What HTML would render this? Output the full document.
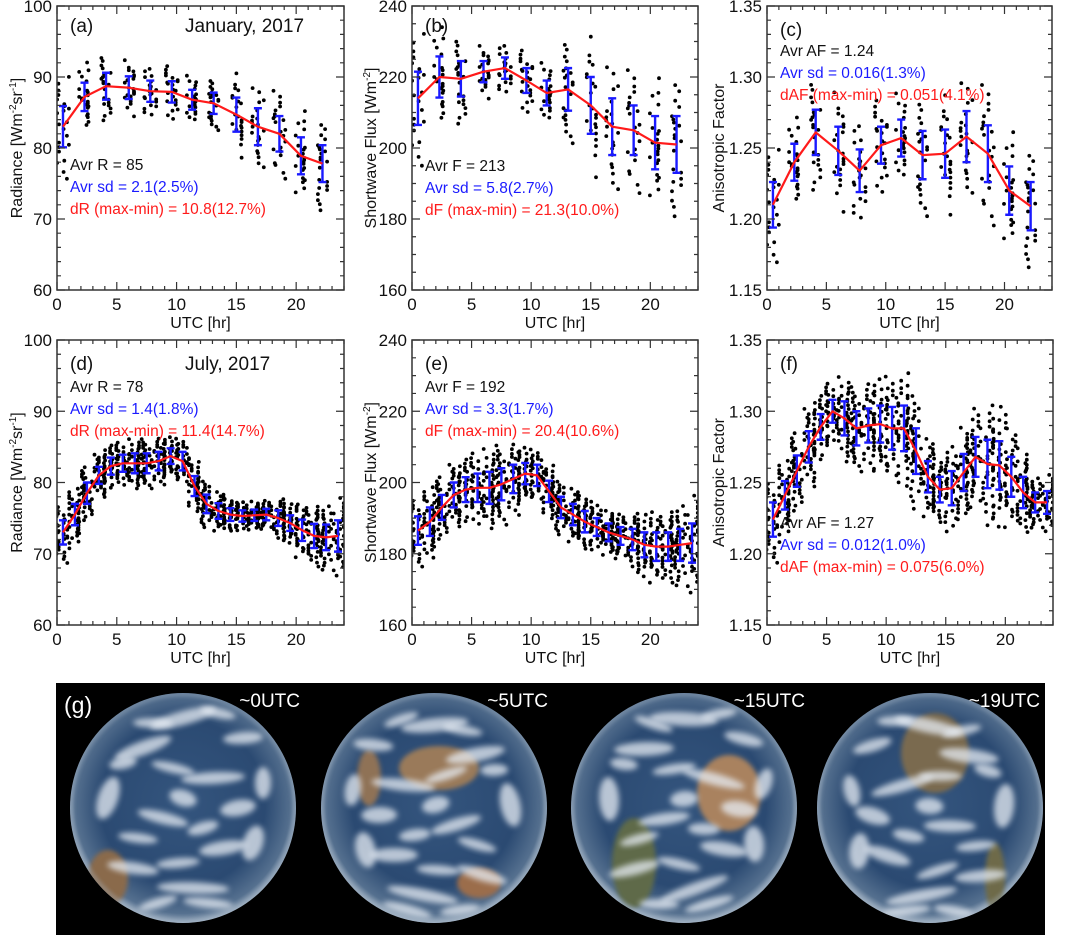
<!DOCTYPE html>
<html><head><meta charset="utf-8">
<style>
html,body{margin:0;padding:0;background:#fff;}
svg{display:block;font-family:"Liberation Sans",Arial,sans-serif;}
</style></head>
<body>
<svg id="fig" width="1065" height="941" viewBox="0 0 1065 941" xmlns="http://www.w3.org/2000/svg">
<defs>
<filter id="blur3" x="-50%" y="-50%" width="200%" height="200%"><feGaussianBlur stdDeviation="3"/></filter>
<filter id="blur2" x="-50%" y="-50%" width="200%" height="200%"><feGaussianBlur stdDeviation="2.5"/></filter>
<radialGradient id="globeGrad" cx="50%" cy="48%" r="52%">
<stop offset="0%" stop-color="#34557e"/><stop offset="70%" stop-color="#2b4a72"/><stop offset="92%" stop-color="#55708f"/><stop offset="100%" stop-color="#9fb0c2"/>
</radialGradient>
</defs>
<g id="charts"></g>
<g id="strip"></g>
</svg>
<script>
// ---------- DATA ----------
const janHours = [0.5,2.3,4.1,6.0,7.8,9.6,11.3,13.1,15.0,16.8,18.6,20.4,22.2];
const julHours = [0.5,1.5,2.5,3.5,4.5,5.5,6.5,7.5,8.5,9.5,10.5,11.5,12.5,13.5,14.5,15.5,16.5,17.5,18.5,19.5,20.5,21.5,22.5,23.5];

const janRadMean = [83.0,87.2,88.7,88.5,88.0,87.9,86.8,86.3,84.7,83.0,82.0,78.9,77.8];
const janRadSd   = [2.9,2.0,1.9,1.6,1.5,1.5,1.4,1.5,2.4,2.6,2.5,2.6,2.6];
const janFluxMean = [214,220,219.5,221.5,222.5,219,215.5,216.5,212,206,205,201.5,201];
const janFluxSd   = [7.5,5.8,5,3,3,3.5,3.5,6,8,8,7,7.5,8];
const janAfMean = [1.210,1.240,1.261,1.248,1.234,1.252,1.257,1.245,1.246,1.258,1.246,1.220,1.209];
const janAfSd   = [0.016,0.013,0.016,0.017,0.015,0.013,0.013,0.017,0.017,0.018,0.020,0.017,0.017];

const julRadMean = [73.0,75.5,78.5,81.0,82.3,82.7,82.7,82.7,83.0,83.7,83.0,79.5,77.0,76.0,75.5,75.3,75.4,75.5,75.0,74.3,73.3,72.5,72.3,72.5];
const julRadSd   = [1.7,1.5,1.5,1.2,1.2,1.2,1.4,1.4,1.3,1.1,1.3,1.4,1.3,1.1,0.9,0.8,0.8,0.8,1.1,1.1,1.5,1.7,1.8,2.2];
const julFluxMean = [186.5,189,193,196.5,198,198.5,198.5,199.5,201,202.5,202,197.5,193,191,189,187.5,186,185,184,182.5,182,182,182.5,183];
const julFluxSd   = [4,4,3.5,3.5,3.5,4,4.5,4.5,4,3,3,3,3,3,3,2.5,2.5,2.5,3,3.5,4,4,4.5,5.5];
const julAfMean = [1.224,1.241,1.258,1.275,1.289,1.300,1.295,1.288,1.290,1.291,1.288,1.288,1.272,1.254,1.245,1.246,1.257,1.268,1.263,1.262,1.254,1.243,1.236,1.236];
const julAfSd   = [0.012,0.010,0.011,0.011,0.009,0.008,0.012,0.012,0.012,0.013,0.015,0.016,0.016,0.011,0.009,0.012,0.013,0.014,0.017,0.017,0.014,0.011,0.007,0.008];

// scatter offsets of individual days, in units of bin sd / hours
const dayZ = [0.1,-0.8,1.3,-1.5,0.6,-0.3,1.9,-1.1,0.4,-2.0,1.0,-0.6,0.2,1.6,-1.3,0.8,-0.1,-1.8,1.2,-0.4,0.5,-0.9,2.2,-0.2,0.9,-1.6,0.3,1.4,-0.7,-1.2,0.7,-0.5,1.7,-2.3,0.0];
const dayDx = [-0.3,0.2,-0.1,0.4,-0.4,0.1,0.3,-0.2,0.0,0.45,-0.35,0.25,-0.15,0.35,-0.45,0.05,0.15,-0.25,0.4,-0.05,0.3,-0.4,0.2,-0.3,0.1,0.45,-0.2,0.35,-0.1,0.0,-0.45,0.25,-0.35,0.15,0.05];

const yTicksRad = [60,70,80,90,100];
const yTicksFlux = [160,180,200,220,240];
const yTicksAf = [1.15,1.20,1.25,1.30,1.35];
const xTicks = [0,5,10,15,20];

// ---------- DRAW ----------
const NS = "http://www.w3.org/2000/svg";
const root = document.getElementById('charts');
function mk(tag, attrs, parent){
  const e = document.createElementNS(NS, tag);
  for (const k in attrs) e.setAttribute(k, attrs[k]);
  (parent||root).appendChild(e);
  return e;
}
function txt(s, attrs, parent){ const t = mk('text', attrs, parent); t.textContent = s; return t; }

let clipId = 0;
function panel(p){
  const g = mk('g', {});
  
  
  const L=p.x0, R=p.x1, T=p.y0, B=p.y1;
  const sx = v => L + (v-0)/(24-0)*(R-L);
  const ymin=p.ticks[0], ymax=p.ticks[p.ticks.length-1];
  const sy = v => B - (v-ymin)/(ymax-ymin)*(B-T);
  const cid = 'clip'+(clipId++);
  const cp = mk('clipPath',{id:cid}, g); mk('rect',{x:L,y:T,width:R-L,height:B-T},cp);
  const sg = mk('g',{'clip-path':'url(#'+cid+')'}, g);
  
  
  p.xs.forEach((h,i)=>{
    for(let k=0;k<p.npts;k++){
      const z = dayZ[(k*3+i*7)%dayZ.length]*1.1;
      const dx = dayDx[(k*5+i*11)%dayDx.length]*p.spread;
      const c = mk('circle',{cx:sx(h+dx).toFixed(1),cy:sy(p.mean[i]+z*p.sd[i]).toFixed(1),r:1.9,fill:'#000'},sg);
      
      
    }
  });
  p.xs.forEach((h,i)=>{
    const x=sx(h), y1=sy(p.mean[i]-p.sd[i]), y2=sy(p.mean[i]+p.sd[i]);
    const eb = mk('path',{d:`M${x},${y1}V${y2}M${x-4},${y1}H${x+4}M${x-4},${y2}H${x+4}`,stroke:'#1a1aff','stroke-width':2.4,fill:'none'},g);
    
    
  });
  const line = mk('polyline',{points:p.xs.map((h,i)=>sx(h).toFixed(1)+','+sy(p.mean[i]).toFixed(1)).join(' '),fill:'none',stroke:'#ff1a1a','stroke-width':2.2,'stroke-linejoin':'round'},g);
  
  
  const fr = mk('rect',{x:L,y:T,width:R-L,height:B-T,fill:'none',stroke:'#333','stroke-width':1.5},g);
  
  
  let d='';
  for(let h=0;h<=24;h++){ const x=sx(h); const len = h%5===0?8:4; d+=`M${x},${B}v${-len}M${x},${T}v${len}`; }
  const step=(p.ticks[1]-p.ticks[0])/p.minor;
  for(let v=ymin, j=0; v<=ymax+1e-9; v+=step, j++){ const y=sy(v); const len=j%p.minor===0?8:4; d+=`M${L},${y}h${len}M${R},${y}h${-len}`; }
  mk('path',{d,stroke:'#333','stroke-width':1.2,fill:'none'},g);
  p.ticks.forEach(v=>{
    const t = txt(p.fmt(v),{x:L-5,y:sy(v)+6,'text-anchor':'end','font-size':17,fill:'#111'},g);
    
    
  });
  xTicks.forEach(v=>{
    const t = txt(String(v),{x:sx(v),y:B+20,'text-anchor':'middle','font-size':17,fill:'#111'},g);
    
    
  });
  const xt = txt('UTC [hr]',{x:(L+R)/2,y:B+38,'text-anchor':'middle','font-size':16,fill:'#111'},g);
  
  
  const yt = mk('text',{transform:`translate(${p.ytx},${(T+B)/2}) rotate(-90)`,'text-anchor':'middle','font-size':16,fill:'#111'},g);
  
  
  yt.innerHTML = p.ytitle;
  const pl = txt(p.label,{x:L+13,y:p.labelY+7,'font-size':19,fill:'#111'},g);
  
  
  if(p.title){ const tt = txt(p.title,{x:p.titleX,y:p.labelY+7,'font-size':19,fill:'#111'},g);
    
     }
  const cols=['#111','#1a1aff','#ff1a1a'];
  p.stats.forEach((s,i)=>{
    const st = txt(s,{x:L+13,y:p.statY+i*22+6,'font-size':15.5,fill:cols[i]},g);
    
    
  });
}
const fInt = v=>String(v), fAf = v=>v.toFixed(2);
const radT='Radiance [Wm<tspan font-size="10" dy="-6">-2</tspan><tspan dy="6">sr</tspan><tspan font-size="10" dy="-6">-1</tspan><tspan dy="6">]</tspan>';
const fluxT='Shortwave Flux [Wm<tspan font-size="10" dy="-6">-2</tspan><tspan dy="6">]</tspan>';
const afT='Anisotropic Factor';
const row1={y0:6,y1:290}, row2={y0:340,y1:625};
panel({name:'panel-a-radiance-jan',x0:57,x1:344,...row1,ticks:yTicksRad,minor:5,fmt:fInt,xs:janHours,mean:janRadMean,sd:janRadSd,npts:22,spread:1.1,ytx:22,ytitle:radT,label:'(a)',labelY:25,title:'January, 2017',titleX:185,statY:164,stats:['Avr R = 85','Avr sd = 2.1(2.5%)','dR (max-min) = 10.8(12.7%)']});
panel({name:'panel-b-flux-jan',x0:412,x1:698,...row1,ticks:yTicksFlux,minor:4,fmt:fInt,xs:janHours,mean:janFluxMean,sd:janFluxSd,npts:22,spread:1.1,ytx:376,ytitle:fluxT,label:'(b)',labelY:25,statY:165,stats:['Avr F = 213','Avr sd = 5.8(2.7%)','dF (max-min) = 21.3(10.0%)']});
panel({name:'panel-c-af-jan',x0:767,x1:1052,...row1,ticks:yTicksAf,minor:5,fmt:fAf,xs:janHours,mean:janAfMean,sd:janAfSd,npts:22,spread:1.1,ytx:724,ytitle:afT,label:'(c)',labelY:29,statY:50,stats:['Avr AF = 1.24','Avr sd = 0.016(1.3%)','dAF (max-min) = 0.051(4.1%)']});
panel({name:'panel-d-radiance-jul',x0:57,x1:344,...row2,ticks:yTicksRad,minor:5,fmt:fInt,xs:julHours,mean:julRadMean,sd:julRadSd,npts:35,spread:1.2,ytx:22,ytitle:radT,label:'(d)',labelY:363,title:'July, 2017',titleX:185,statY:386,stats:['Avr R = 78','Avr sd = 1.4(1.8%)','dR (max-min) = 11.4(14.7%)']});
panel({name:'panel-e-flux-jul',x0:412,x1:698,...row2,ticks:yTicksFlux,minor:4,fmt:fInt,xs:julHours,mean:julFluxMean,sd:julFluxSd,npts:35,spread:1.2,ytx:376,ytitle:fluxT,label:'(e)',labelY:363,statY:386,stats:['Avr F = 192','Avr sd = 3.3(1.7%)','dF (max-min) = 20.4(10.6%)']});
panel({name:'panel-f-af-jul',x0:767,x1:1053,...row2,ticks:yTicksAf,minor:5,fmt:fAf,xs:julHours,mean:julAfMean,sd:julAfSd,npts:35,spread:1.2,ytx:724,ytitle:afT,label:'(f)',labelY:363,statY:522,stats:['Avr AF = 1.27','Avr sd = 0.012(1.0%)','dAF (max-min) = 0.075(6.0%)']});

// ---------- EARTH IMAGES ----------
const strip = document.getElementById('strip');
mk('rect',{x:56,y:683,width:989,height:252,fill:'#000'},strip);
const globeCx=[183,434,684,930], globeLbl=['~0UTC','~5UTC','~15UTC','~19UTC'], lblEnd=[300,548,805,1040];
const clouds=[[-40,-60,30,7],[30,-30,32,6],[-20,10,26,6],[40,40,24,7],[-50,60,26,6],[0,-90,34,7],[10,80,36,6],[-75,-10,10,22],[60,-70,20,6],
  [-10,-40,22,5],[55,0,18,8],[-45,30,20,5],[20,20,16,6],[-30,-85,20,5],[70,35,10,18],[-5,55,22,5],[35,-95,18,5],[-60,-45,14,6],[25,95,25,5],[-25,95,20,5],[80,-25,8,16],[0,-10,14,8]];
const lands=[
  [[-75,70,20,28,'#8a6a4c']],
  [[5,-40,40,22,'#9a7a5a'],[45,75,22,15,'#9b6d4c'],[-65,-30,12,28,'#8f7256']],
  [[45,-15,32,38,'#a9825f'],[-50,55,22,45,'#5f6a48']],
  [[5,-55,34,40,'#7a6a50'],[65,70,10,35,'#6e6a4a']]
];
globeCx.forEach((cx,gi)=>{
  const gg = mk('g',{},strip);
  
  
  const cp = mk('clipPath',{id:'gc'+gi},gg);
  mk('ellipse',{cx,cy:808,rx:113,ry:115},cp);
  mk('ellipse',{cx,cy:808,rx:113,ry:115,fill:'url(#globeGrad)'},gg);
  const inner = mk('g',{'clip-path':`url(#gc${gi})`},gg);
  lands[gi].forEach(l=>mk('ellipse',{cx:cx+l[0],cy:808+l[1],rx:l[2],ry:l[3],fill:l[4],filter:'url(#blur2)'},inner));
  clouds.forEach((c,k)=>{
    const s = (gi%2? -1:1);
    mk('ellipse',{cx:cx+c[0]*s,cy:808+c[1]+(gi*7%13),rx:c[2],ry:c[3],fill:'#e8eef5',opacity:0.75,filter:'url(#blur3)',transform:`rotate(${(k*17+gi*9)%40-20} ${cx+c[0]*s} ${808+c[1]})`},inner);
  });
  mk('ellipse',{cx,cy:808,rx:112,ry:114,fill:'none',stroke:'#a8b8c8','stroke-width':3,opacity:0.6,filter:'url(#blur2)'},inner);
});
globeCx.forEach((cx,gi)=>{
  const lt = txt(globeLbl[gi],{x:lblEnd[gi],y:707,'text-anchor':'end','font-size':19,fill:'#fff'},strip);
  
  
});
const gl = txt('(g)',{x:64,y:713,'font-size':23,fill:'#fff'},strip);


</script>
</body></html>
